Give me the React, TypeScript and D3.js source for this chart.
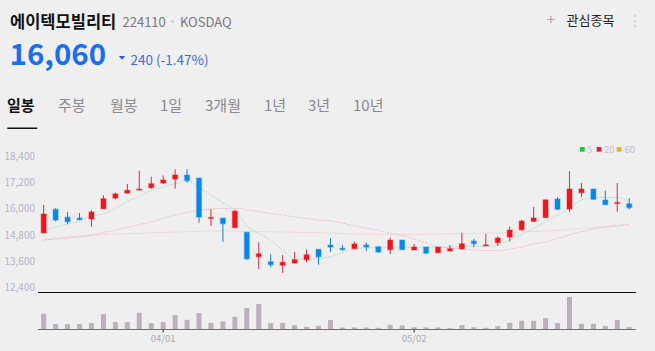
import React from 'react';
import * as d3 from 'd3';

// trading days shown (2024)
const dates = [
    '03/18', '03/19', '03/20', '03/21', '03/22', '03/25', '03/26', '03/27', '03/28', '03/29',
    '04/01', '04/02', '04/03', '04/04', '04/05', '04/08', '04/09', '04/11', '04/12', '04/15',
    '04/16', '04/17', '04/18', '04/19', '04/22', '04/23', '04/24', '04/25', '04/26', '04/29',
    '04/30', '05/02', '05/03', '05/07', '05/08', '05/09', '05/10', '05/13', '05/14', '05/16',
    '05/17', '05/20', '05/21', '05/22', '05/23', '05/24', '05/27', '05/28', '05/29', '05/30',
];

const opens = [
    14900, 15980, 15620, 15580, 15540, 16010, 16500, 16730, 16870, 16975,
    17190, 17370, 17560, 17420, 15570, 15580, 15140, 14930, 13805, 13575,
    13410, 13515, 13670, 14145, 14340, 14190, 14175, 14340, 14265, 14130,
    14570, 14115, 14250, 13990, 14070, 14160, 14525, 14340, 14450, 14710,
    15045, 15430, 15600, 16455, 16000, 16745, 16915, 16410, 16250, 16240,
];
const highs = [
    16180, 16030, 15860, 15810, 15940, 16630, 16760, 17150, 17750, 17480,
    17540, 17820, 17830, 17420, 16000, 15580, 15960, 14930, 14470, 13915,
    13885, 14020, 14145, 14145, 14660, 14340, 14495, 14450, 14270, 14680,
    14570, 14390, 14250, 14250, 14340, 14910, 14630, 14850, 14740, 15180,
    15505, 16090, 16440, 16535, 17740, 17190, 16930, 16840, 17190, 16500,
];
const lows = [
    14900, 15430, 15290, 15490, 15180, 16000, 16440, 16690, 16870, 16930,
    17150, 16930, 17200, 15370, 15215, 14490, 15140, 13650, 13240, 13320,
    13060, 13500, 13550, 13440, 14020, 14080, 14170, 14070, 13975, 13930,
    14130, 14110, 13950, 13990, 14060, 14150, 14240, 14340, 14300, 14510,
    15000, 15420, 15590, 15950, 15860, 16535, 16420, 16190, 15870, 15980,
];
const closes = [
    15770, 15490, 15410, 15510, 15860, 16470, 16690, 16860, 16910, 17160,
    17330, 17560, 17300, 15630, 15610, 15320, 15900, 13710, 13945, 13440,
    13550, 13670, 13900, 13805, 14250, 14130, 14390, 14250, 14020, 14570,
    14130, 14250, 13960, 14250, 14175, 14400, 14405, 14350, 14665, 15030,
    15445, 15585, 16420, 15985, 16915, 16915, 16440, 16195, 16300, 16060,
];
// volume, thousand shares
const volumes = [
    470, 160, 160, 160, 190, 460, 220, 220, 500, 190,
    220, 430, 290, 490, 200, 240, 380, 640, 760, 190,
    200, 130, 80, 110, 280, 60, 60, 60, 50, 140,
    120, 70, 60, 60, 40, 130, 70, 50, 100, 200,
    260, 260, 340, 190, 970, 170, 170, 110, 280, 70,
];

// moving averages
const ma5 = [
    15000, 15160, 15310, 15450, 15680, 15770, 16030, 16330, 16590, 16840,
    17010, 17160, 17300, 16980, 16640, 16290, 15950, 15220, 14880, 14560,
    14110, 13690, 13690, 13710, 13810, 13990, 14160, 14210, 14220, 14240,
    14240, 14240, 14240, 14240, 14250, 14270, 14300, 14270, 14340, 14570,
    14830, 15110, 15410, 15720, 16030, 16410, 16520, 16530, 16530, 16360,
];
const ma20 = [
    14570, 14620, 14660, 14710, 14800, 14920, 15030, 15150, 15280, 15400,
    15580, 15720, 15830, 15930, 16000, 16020, 16030, 15970, 15880, 15790,
    15720, 15630, 15560, 15490, 15450, 15350, 15220, 15120, 15010, 14890,
    14780, 14620, 14440, 14270, 14200, 14160, 14110, 14090, 14090, 14160,
    14250, 14390, 14480, 14640, 14800, 14960, 15080, 15170, 15240, 15300,
];
const ma60 = [
    14570, 14640, 14700, 14750, 14790, 14820, 14840, 14860, 14880, 14900,
    14920, 14935, 14950, 14970, 14990, 14990, 14980, 14970, 14960, 14950,
    14940, 14930, 14920, 14910, 14890, 14870, 14850, 14840, 14830, 14830,
    14830, 14830, 14840, 14850, 14860, 14870, 14880, 14890, 14900, 14920,
    14940, 14960, 14990, 15020, 15060, 15100, 15140, 15180, 15220, 15260,
];

const priceTicks = [12400, 13600, 14800, 16000, 17200, 18400];
const dateTicks = ['04/01', '05/02'];
const tabs = ['일봉', '주봉', '월봉', '1일', '3개월', '1년', '3년', '10년'];
const tabX = [7, 58, 110, 160, 205, 264, 308, 353];

const W = 655;
const H = 351;
const FONT = '"Noto Sans CJK KR", "Noto Sans", sans-serif';

const UP = '#f0141e';
const DOWN = '#0a88e8';

const App = () => {
    const x = d3.scaleBand().domain(dates).range([37.7, 635.2]);
    const cx = (d: string) => (x(d) as number) + x.bandwidth() / 2;
    const y = d3.scaleLinear().domain([12400, 18400]).range([287.3, 156.7]);
    const yv = d3.scaleLinear().domain([0, 970]).range([329.5, 297]);
    const fmt = d3.format(',');

    const maLine = d3.line<number>()
        .x((_, i) => cx(dates[i]))
        .y(v => y(v))
        .curve(d3.curveMonotoneX);

    return (
        <svg width={W} height={H} style={{ position: 'absolute', left: 0, top: 0 }} fontFamily={FONT}>
            <rect width={W} height={H} fill="#efefef" />

            {/* header */}
            <text x={10} y={27.5} fontSize={16.5} fontWeight={700} fill="#111">에이텍모빌리티</text>
            <text x={122.5} y={27} fontSize={13} fill="#7b7680">224110</text>
            <circle cx={172.5} cy={21.5} r={1.5} fill="#cfccd4" />
            <text x={180} y={27} fontSize={13} fill="#7b7680">KOSDAQ</text>
            <text x={9.5} y={65} fontSize={29.5} fontWeight={700} fill="#1b6ef0">16,060</text>
            <path d="M118.7,56 L125.3,56 L122,59.8 Z" fill="#2a64d8" />
            <text x={130.5} y={65} fontSize={13.5} fill="#3d6fd6">240 (-1.47%)</text>

            <text x={551} y={25} fontSize={15} fill="#a8a8b8" textAnchor="middle">+</text>
            <text x={566.5} y={25} fontSize={13} fill="#222">관심종목</text>
            {[16, 21, 26].map(cy => <circle key={cy} cx={635} cy={cy} r={1.3} fill="#cdd0e4" />)}

            {/* period tabs */}
            {tabs.map((t, i) => (
                <text key={t} x={tabX[i]} y={110.5} fontSize={15}
                    fontWeight={i === 0 ? 700 : 400}
                    fill={i === 0 ? '#111' : '#8a8a92'}>{t}</text>
            ))}
            <rect x={7.3} y={127.5} width={30} height={1.5} fill="#111" />

            {/* price axis labels */}
            {priceTicks.map(p => (
                <text key={p} x={35} y={y(p) + 3.5} fontSize={10} fill="#b6b4c8" textAnchor="end">{fmt(p)}</text>
            ))}

            {/* legend */}
            <rect x={580} y={147} width={4.7} height={4.7} fill="#1fcc3c" />
            <text x={587} y={152.5} fontSize={9.5} fill="#c2c0d2">5</text>
            <rect x={596.7} y={147} width={4.7} height={4.7} fill="#ee1c2a" />
            <text x={604} y={152.5} fontSize={9.5} fill="#c2c0d2">20</text>
            <rect x={616.7} y={147} width={4.7} height={4.7} fill="#f0b020" />
            <text x={624.5} y={152.5} fontSize={9.5} fill="#c2c0d2">60</text>

            {/* moving averages */}
            <path d={maLine(ma60) || ''} fill="none" stroke="#f2c4bc" strokeOpacity={0.55} strokeWidth={1} />
            <path d={maLine(ma20) || ''} fill="none" stroke="#eab4cc" strokeOpacity={0.7} strokeWidth={1} strokeDasharray="3,1" />
            <path d={maLine(ma5) || ''} fill="none" stroke="#a4dcc4" strokeOpacity={0.85} strokeWidth={1} strokeDasharray="2,1" />

            {/* candles */}
            {dates.map((d, i) => {
                const up = closes[i] >= opens[i];
                const col = up ? UP : DOWN;
                const top = y(Math.max(opens[i], closes[i]));
                const bot = y(Math.min(opens[i], closes[i]));
                const c = cx(d);
                return (
                    <g key={d}>
                        <line x1={c} x2={c} y1={y(highs[i])} y2={y(lows[i])}
                            stroke={up ? '#d0303a' : '#1a7ad8'} strokeWidth={1} />
                        <rect x={c - 2.5} y={top} width={5} height={Math.max(bot - top, 1)}
                            fill={col} stroke={col} strokeOpacity={0.3} strokeWidth={1.5} />
                    </g>
                );
            })}

            {/* axis line */}
            <line x1={38} x2={636} y1={292.5} y2={292.5} stroke="#111" strokeWidth={1.2} />

            {/* volume */}
            {dates.map((d, i) => (
                <rect key={d} x={cx(d) - 2.5} y={yv(volumes[i])} width={5}
                    height={yv(0) - yv(volumes[i])} fill="#bbb0bb" />
            ))}
            <line x1={38} x2={636} y1={329.5} y2={329.5} stroke="#7a6c6e" strokeWidth={1} />

            {dateTicks.map(t => (
                <g key={t}>
                    <line x1={cx(t)} x2={cx(t)} y1={329.5} y2={332.5} stroke="#333" strokeWidth={1} />
                    <text x={cx(t)} y={341.5} fontSize={9.5} fill="#a9a8ba" textAnchor="middle">{t}</text>
                </g>
            ))}
        </svg>
    );
};

export default App;
